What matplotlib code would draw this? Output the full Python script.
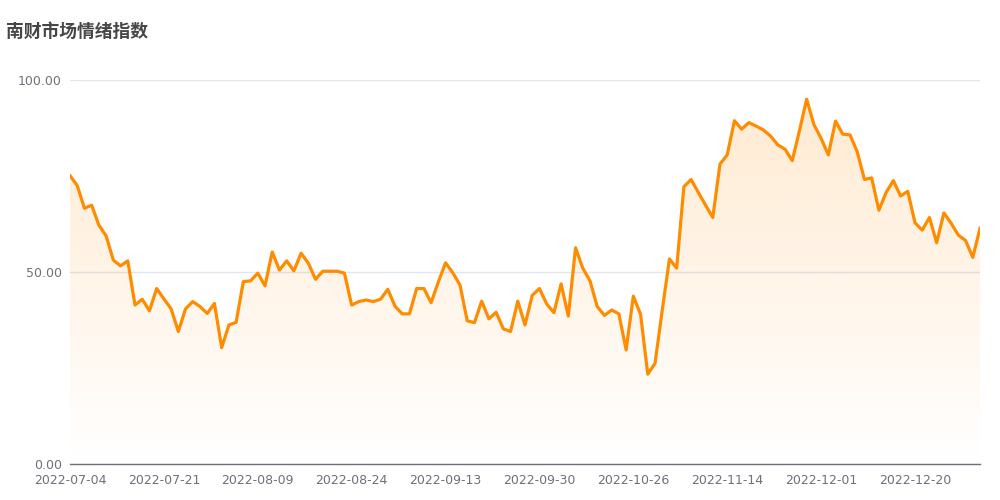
import matplotlib
matplotlib.use("Agg")
import matplotlib.pyplot as plt
import numpy as np
from matplotlib.patches import PathPatch
from matplotlib.path import Path

title = "南财市场情绪指数"

tick_labels = ["2022-07-04", "2022-07-21", "2022-08-09", "2022-08-24", "2022-09-13",
               "2022-09-30", "2022-10-26", "2022-11-14", "2022-12-01", "2022-12-20"]

values = [
    75.1, 72.5, 66.6, 67.4, 62.2, 59.4, 53.1, 51.6, 52.9, 41.4,
    42.9, 39.9, 45.7, 43.0, 40.4, 34.5, 40.4, 42.3, 41.0, 39.2,
    41.8, 30.3, 36.2, 36.9, 47.5, 47.7, 49.7, 46.4, 55.2, 50.5,
    52.9, 50.3, 54.9, 52.3, 48.1, 50.2, 50.2, 50.2, 49.7, 41.4,
    42.3, 42.7, 42.3, 42.9, 45.5, 41.1, 39.1, 39.1, 45.7, 45.7,
    42.0, 47.4, 52.4, 49.8, 46.6, 37.3, 36.8, 42.4, 37.8, 39.5,
    35.2, 34.5, 42.4, 36.2, 43.9, 45.7, 41.7, 39.4, 46.9, 38.5,
    56.3, 51.0, 47.7, 41.0, 38.7, 40.1, 39.1, 29.7, 43.7, 39.0,
    23.4, 26.2, 40.0, 53.4, 51.0, 72.2, 74.1, 70.7, 67.4, 64.2,
    78.1, 80.5, 89.4, 87.2, 88.9, 88.0, 87.0, 85.4, 83.1, 82.0,
    79.0, 86.8, 95.0, 88.4, 84.8, 80.5, 89.3, 85.9, 85.7, 81.3,
    74.1, 74.5, 66.1, 70.7, 73.8, 69.8, 71.0, 62.8, 60.9, 64.2,
    57.6, 65.4, 62.7, 59.6, 58.2, 53.8, 61.4,
]

label_step = 13

plt.rcParams['font.family'] = ['DejaVu Sans']

fig = plt.figure(figsize=(10, 5), dpi=100)
ax = fig.add_axes([0.07, 0.072, 0.91, 0.768])

n = len(values)
x = np.arange(n)
y = np.array(values)

line_color = "#FF8C00"

# gradient fill
verts = [(x[0], 0)] + list(zip(x, y)) + [(x[-1], 0), (x[0], 0)]
codes = [Path.MOVETO] + [Path.LINETO] * (len(verts) - 2) + [Path.CLOSEPOLY]
poly = PathPatch(Path(verts, codes), facecolor="none", edgecolor="none")
ax.add_patch(poly)
grad = np.zeros((256, 1, 4))
grad[:, 0, 0] = 1.0
grad[:, 0, 1] = 140 / 255
grad[:, 0, 2] = 0.0
grad[:, 0, 3] = np.linspace(0.18, 0.0, 256)
im = ax.imshow(grad, aspect="auto", extent=[x[0], x[-1], 0, y.max()],
               origin="upper", zorder=1, interpolation="bilinear")
im.set_clip_path(poly)

ax.plot(x, y, color=line_color, linewidth=2.3, zorder=3, solid_joinstyle="round")

ax.set_xlim(0, n - 1)
ax.set_ylim(0, 100)

ax.set_yticks([0, 50, 100])
ax.set_yticklabels(["0.00", "50.00", "100.00"])
ax.yaxis.grid(True, color="#E0E6F1", linewidth=1)
ax.set_axisbelow(True)

ticks_pos = list(range(0, n, label_step))[:len(tick_labels)]
ax.set_xticks(ticks_pos)
ax.set_xticklabels(tick_labels)

for s in ["top", "right", "left"]:
    ax.spines[s].set_visible(False)
ax.spines["bottom"].set_color("#6E7079")
ax.spines["bottom"].set_linewidth(1)
ax.spines["bottom"].set_zorder(4)

ax.tick_params(axis="both", length=0, colors="#6E7079", labelsize=9)
ax.tick_params(axis="y", pad=6)
ax.tick_params(axis="x", pad=7)

fig.text(0.006, 0.936, title, fontsize=12.8, fontweight="bold", color="#464646",
         family=["Noto Sans CJK SC", "DejaVu Sans"], ha="left", va="center")

fig.savefig("out.png", dpi=100, facecolor="white")
